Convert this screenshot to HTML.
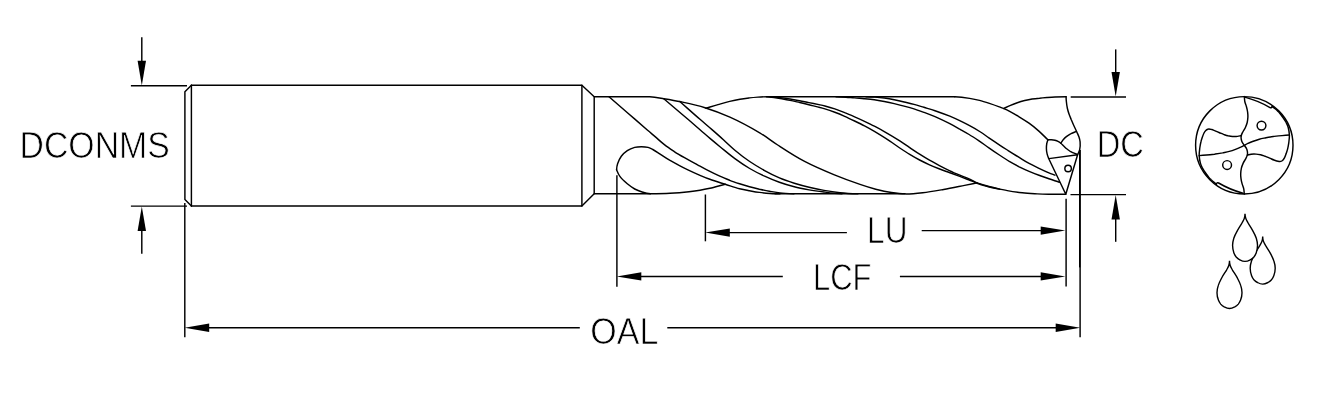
<!DOCTYPE html>
<html lang="en"><head><meta charset="utf-8"><title>Drill dimension drawing</title>
<style>html,body{margin:0;padding:0;background:#fff}svg{display:block;will-change:transform}.o{fill:none;stroke:#000;stroke-width:1.45;stroke-linecap:round;stroke-linejoin:round}.d{fill:none;stroke:#000;stroke-width:1.45}.a{fill:#000;stroke:none}.w{fill:#fff;stroke:#000;stroke-width:1.4;stroke-linejoin:round}.t{font-family:"Liberation Sans",sans-serif;fill:#000;stroke:#fff;stroke-width:0.75}</style></head><body>
<svg width="1339" height="404" viewBox="0 0 1339 404">
<g class="o">
<path d="M191.4,85.3H581.9V205.9H191.4"/>
<path d="M191.4,85.3V205.9"/>
<path d="M191.4,85.3L184.9,91.8V199.4L191.4,205.9"/>
<path d="M581.9,85.3L594.2,96.7 V193.8 L581.9,205.9"/>
<path d="M594.2,96.7H649.7C654.8,97.1 658.9,97.9 663.8,98.7C669.3,99.6 674.8,100.5 681.0,101.8C688.4,103.4 697.0,105.2 705.0,107.7C713.3,110.3 721.4,113.3 729.9,117.1C739.5,121.4 751.1,127.7 759.7,132.8C766.6,136.9 771.0,140.7 777.7,145.0C785.7,150.2 795.2,156.5 804.6,161.4C814.1,166.4 824.8,170.9 834.4,174.9C843.2,178.5 852.5,181.9 860.0,184.4C865.8,186.4 870.4,187.8 875.7,189.2C880.9,190.5 886.3,191.7 891.4,192.5C896.1,193.2 900.2,193.8 905.0,193.9C910.5,194.0 916.6,193.4 922.7,192.7C929.4,192.0 936.6,190.7 943.6,189.5C950.6,188.3 958.5,186.6 964.6,185.4C969.3,184.5 972.9,183.7 977.1,182.9"/>
<path d="M706.0,108.2C710.0,107.0 714.0,105.7 718.0,104.6C721.9,103.5 725.9,102.3 729.7,101.4C733.2,100.6 736.6,99.9 740.0,99.3C743.2,98.7 746.4,98.3 749.5,97.9C752.4,97.5 755.0,97.3 758.0,97.1C761.2,96.9 764.0,96.8 768.0,96.7H954.8"/>
<path d="M954.8,96.7C960.1,97.0 965.2,97.7 969.6,98.4C973.2,99.0 976.2,99.6 979.5,100.4C982.8,101.2 986.1,102.3 989.4,103.4C992.7,104.5 996.6,105.9 999.3,106.9C1001.1,107.6 1002.2,107.9 1003.8,108.6C1005.5,109.3 1007.2,110.0 1009.2,111.1C1012.0,112.6 1015.8,114.8 1019.1,116.8C1022.4,118.8 1025.8,120.9 1029.0,123.2C1032.4,125.6 1035.7,128.3 1038.9,131.1C1042.0,133.9 1044.9,136.9 1047.9,139.8"/>
<path d="M1003.9,108.4C1005.9,107.5 1007.7,106.6 1009.9,105.7C1012.2,104.7 1014.8,103.6 1017.3,102.7C1019.8,101.8 1022.2,101.1 1024.7,100.5C1027.2,99.9 1029.6,99.4 1032.1,99.0C1034.6,98.6 1037.0,98.4 1039.5,98.2C1042.0,97.9 1044.5,97.7 1047.0,97.5C1049.6,97.3 1052.1,97.1 1055.0,97.0C1058.4,96.9 1062.3,96.8 1066.1,96.8"/>
<path d="M1066.1,96.8C1066.1,98.2 1066.1,99.4 1066.3,101.0C1066.5,103.1 1066.9,106.2 1067.4,108.5C1067.9,110.6 1068.5,112.6 1069.2,114.5C1069.8,116.3 1070.6,117.9 1071.3,119.7C1072.1,121.6 1072.9,123.6 1073.8,125.5C1074.7,127.5 1075.7,129.5 1076.6,131.5C1077.4,133.4 1078.4,135.2 1079.0,137.0C1079.5,138.6 1079.9,140.0 1080.1,141.8C1080.3,144.1 1080.2,147.4 1079.7,149.7C1079.3,151.6 1078.3,153.0 1077.6,154.7"/>
<path d="M594.2,193.8H650C656.7,193.7 663.4,193.6 670.0,193.2C676.4,192.9 683.5,192.3 689.0,191.7C693.2,191.3 696.4,190.9 700.0,190.3C703.4,189.7 706.3,189.1 709.9,188.3C714.5,187.2 720.1,185.6 725.2,184.3"/>
<path d="M616.6,169.7C616.7,167.8 616.9,165.8 617.6,163.8C618.4,161.4 619.7,158.5 621.3,156.3C622.9,154.1 625.1,152.2 627.3,150.7C629.5,149.2 632.2,148.1 634.7,147.4C636.9,146.8 639.2,146.7 641.4,146.7C643.6,146.7 646.1,146.9 648.1,147.4C649.8,147.9 651.1,148.6 652.8,149.5C654.9,150.6 657.2,152.2 659.7,153.8C662.7,155.7 666.3,158.2 669.6,160.2C672.9,162.1 676.4,164.0 679.5,165.6C682.3,167.1 684.4,168.2 687.4,169.6C691.1,171.4 696.0,173.6 700.0,175.3C703.5,176.8 706.2,178.0 709.9,179.3C714.4,181.0 720.2,182.7 725.2,184.3C730.1,185.8 735.2,187.6 739.6,188.7C743.2,189.6 746.2,190.1 749.5,190.7C752.8,191.3 756.0,191.9 759.4,192.4C762.9,192.9 766.5,193.3 770.0,193.5C773.4,193.7 776.5,193.7 780.0,193.8"/>
<path d="M616.6,169.7C617.5,171.9 618.3,174.2 619.9,176.4C621.7,179.0 624.7,181.6 627.3,183.8C629.7,185.8 632.2,187.6 634.7,189.0C637.1,190.3 639.5,191.2 642.1,192.0C644.8,192.8 647.5,193.5 650.5,193.8"/>
<path d="M775,193.8H905"/>
<path d="M609.0,96.7C615.3,102.2 621.6,107.7 628.0,113.2C634.4,118.8 642.4,125.7 647.3,130.0C650.4,132.6 652.1,134.1 654.8,136.4C657.9,139.0 661.3,142.3 664.7,144.9C667.9,147.4 671.3,149.6 674.6,151.8C677.9,153.9 681.2,155.8 684.5,157.7C687.8,159.6 691.6,161.7 694.4,163.2C696.5,164.4 697.9,165.1 700.0,166.2C702.8,167.7 706.6,169.7 709.9,171.4C713.2,173.1 716.5,174.7 719.8,176.2C723.1,177.7 726.4,179.0 729.7,180.3C733.0,181.6 736.3,182.7 739.6,183.8C742.9,184.9 746.2,185.8 749.5,186.7C752.8,187.6 756.1,188.4 759.4,189.2C762.7,189.9 765.9,190.6 769.3,191.2C772.8,191.8 776.2,192.5 780.0,192.9C784.3,193.4 789.2,193.6 794.0,193.8"/>
<path d="M663.8,98.7C669.9,103.9 675.9,109.0 682.0,114.2C688.1,119.4 695.2,125.6 700.3,130.0C704.0,133.2 706.7,135.6 710.0,138.4C713.3,141.2 716.3,143.7 720.0,146.7C724.5,150.3 729.9,154.9 734.9,158.6C739.8,162.2 744.7,165.5 749.7,168.5C754.6,171.4 759.6,173.9 764.6,176.2C769.5,178.5 774.4,180.5 779.4,182.3C784.3,184.1 789.3,185.5 794.3,186.8C799.2,188.1 804.1,189.0 809.1,189.9C814.0,190.8 818.8,191.4 824.0,192.0C829.7,192.7 836.0,193.5 842.0,193.8"/>
<path d="M679.8,101.5C686.5,107.4 694.1,114.2 700.0,119.3C704.5,123.2 708.0,126.1 712.0,129.6C715.9,133.0 719.9,136.5 723.7,140.0C727.5,143.4 730.8,146.8 734.9,150.2C739.4,154.0 744.7,158.1 749.7,161.5C754.6,164.8 759.6,167.8 764.6,170.6C769.5,173.3 774.4,175.8 779.4,177.9C784.3,180.0 789.3,181.6 794.3,183.2C799.2,184.7 804.1,186.0 809.1,187.2C814.0,188.4 818.9,189.5 824.0,190.4C829.2,191.3 834.5,192.1 840.0,192.7C845.8,193.3 852.1,193.6 858.0,193.8"/>
<path d="M770.0,96.7C772.7,96.8 775.3,97.1 778.0,97.4C780.8,97.7 783.4,98.0 786.6,98.5C790.5,99.1 795.7,100.1 799.7,100.8C803.0,101.4 805.7,102.0 808.9,102.6C812.4,103.3 817.0,104.3 820.0,104.9C822.0,105.3 823.0,105.5 824.9,106.0C827.6,106.7 831.5,107.8 834.8,108.9C838.1,110.0 841.4,111.3 844.7,112.7C848.0,114.0 851.3,115.4 854.6,116.8C857.9,118.2 861.2,119.7 864.5,121.3C867.8,122.9 871.1,124.5 874.4,126.2C877.7,127.9 880.7,129.5 884.3,131.6C888.9,134.2 895.2,138.0 899.8,140.9C903.5,143.3 906.4,145.4 909.7,147.6C913.0,149.8 916.3,152.1 919.6,154.2C922.9,156.3 926.2,158.3 929.5,160.2C932.8,162.1 936.0,163.8 939.4,165.6C942.8,167.4 946.4,169.2 949.9,170.8C953.2,172.4 956.5,173.8 959.8,175.2C963.1,176.6 966.7,177.8 969.7,179.2C972.4,180.4 974.6,181.8 977.1,182.8C979.7,183.8 982.4,184.5 985.0,185.3C987.5,186.0 989.9,186.7 992.4,187.3C994.9,187.9 997.5,188.5 1000.0,189.1C1002.5,189.6 1004.4,190.1 1007.3,190.6C1011.4,191.3 1017.3,192.2 1022.3,192.8C1027.3,193.3 1032.6,193.6 1037.2,193.9C1041.2,194.1 1044.3,194.2 1048.4,194.3C1053.6,194.4 1060.0,194.3 1065.8,194.3"/>
<path d="M766.5,96.7C769.0,96.9 771.5,97.2 774.0,97.5C776.6,97.9 779.2,98.3 781.8,98.8C784.5,99.3 787.2,99.8 790.0,100.4C793.1,101.0 796.5,101.8 799.7,102.5C802.8,103.2 805.7,103.9 808.9,104.7C812.4,105.6 817.1,106.7 820.0,107.5C822.0,108.0 823.0,108.3 824.9,108.9C827.6,109.7 831.5,111.0 834.8,112.2C838.1,113.4 841.4,114.8 844.7,116.3C848.0,117.8 851.3,119.4 854.6,121.0C857.9,122.6 861.2,124.2 864.5,125.9C867.8,127.6 870.8,129.3 874.4,131.4C879.0,134.1 885.3,138.1 889.9,141.1C893.6,143.5 896.5,145.8 899.8,148.0C903.1,150.2 906.4,152.4 909.7,154.4C913.0,156.4 916.3,158.3 919.6,160.0C922.9,161.7 926.2,163.3 929.5,164.8C932.9,166.3 936.3,167.7 939.7,169.0C943.1,170.3 946.5,171.6 949.9,172.8C953.2,174.0 956.5,175.2 959.8,176.4C963.1,177.6 966.6,179.0 969.7,180.2C972.4,181.2 974.6,182.3 977.1,183.2C979.7,184.1 982.4,185.0 985.0,185.8C987.5,186.5 989.9,187.1 992.4,187.7C994.9,188.3 997.5,188.8 1000.0,189.3"/>
<path d="M866.0,96.7C869.6,96.8 872.0,96.9 875.0,97.1C878.1,97.3 881.2,97.6 884.3,98.0C887.6,98.5 890.9,99.1 894.2,99.8C897.5,100.5 900.8,101.2 904.1,102.0C907.4,102.8 910.7,103.5 914.0,104.4C917.3,105.3 920.5,106.3 923.9,107.3C927.5,108.4 931.1,109.4 935.0,110.7C939.6,112.3 945.4,114.4 949.8,116.2C953.5,117.8 956.4,119.1 959.7,120.7C963.0,122.3 966.2,123.9 969.6,125.7C973.2,127.6 977.1,129.9 980.5,132.0C983.5,133.9 985.9,135.8 988.9,137.9C992.3,140.2 996.7,143.1 1000.0,145.3C1002.7,147.1 1004.6,148.3 1007.3,150.0C1010.8,152.2 1015.4,155.1 1019.2,157.4C1022.6,159.5 1025.8,161.6 1029.1,163.4C1032.4,165.2 1035.7,166.7 1039.0,168.3C1042.3,169.9 1046.0,171.6 1048.9,172.8C1051.1,173.8 1052.9,174.4 1054.9,175.2"/>
<path d="M836.0,96.7C839.6,96.8 842.8,97.0 846.0,97.2C849.0,97.4 851.7,97.7 854.6,97.9C857.7,98.2 860.8,98.4 864.0,98.7C867.4,99.0 871.0,99.3 874.4,99.8C877.7,100.3 881.0,100.9 884.3,101.5C887.6,102.1 890.9,102.8 894.2,103.6C897.5,104.4 900.8,105.2 904.1,106.1C907.4,107.0 910.7,107.9 914.0,108.9C917.3,110.0 920.5,111.2 923.9,112.4C927.5,113.7 931.1,114.9 935.0,116.6C939.6,118.6 945.4,121.4 949.8,123.7C953.5,125.6 956.5,127.3 959.7,129.1C962.9,130.9 966.0,132.6 969.1,134.5C972.4,136.5 975.7,138.7 979.0,140.9C982.3,143.1 985.5,145.5 988.9,147.8C992.3,150.2 995.9,152.7 999.4,155.0C1002.7,157.2 1006.0,159.4 1009.3,161.4C1012.6,163.3 1015.9,165.1 1019.2,166.8C1022.5,168.4 1025.8,169.9 1029.1,171.3C1032.4,172.7 1035.7,174.0 1039.0,175.2C1042.3,176.4 1045.6,177.5 1048.9,178.7C1052.3,179.9 1055.8,181.0 1059.3,182.2"/>
<path d="M1047.9,139.8C1047.5,141.1 1047.0,142.2 1046.8,143.5C1046.5,145.0 1046.4,146.8 1046.4,148.5C1046.4,150.2 1046.7,152.1 1047.1,153.8C1047.5,155.6 1048.3,157.3 1048.9,159.0L1065.8,194.2L1077.6,154.7L1048.9,158.6"/>
<path d="M1047.9,139.8C1049.1,139.7 1050.2,139.6 1051.4,139.7C1052.6,139.8 1053.8,140.0 1054.9,140.3C1056.0,140.6 1057.0,140.9 1058.0,141.4C1059.0,141.9 1059.9,142.5 1060.8,143.2C1061.8,144.0 1062.7,145.1 1063.7,146.0C1064.7,146.9 1065.7,148.0 1066.7,148.8C1067.7,149.6 1068.7,150.3 1069.7,151.0C1070.7,151.6 1071.6,152.2 1072.7,152.7C1074.1,153.3 1075.8,153.9 1077.4,154.5"/>
<path d="M1060.8,143.2C1061.6,142.1 1062.3,140.9 1063.2,139.8C1064.2,138.6 1065.4,137.4 1066.7,136.4C1068.0,135.4 1069.4,134.4 1071.0,133.6C1072.7,132.7 1074.6,132.1 1076.4,131.4"/>
<circle cx="1068.1" cy="168.4" r="3.25"/>
</g>
<g class="o">
<circle cx="1244.3" cy="145.3" r="48.7"/>
<path d="M1244.3,96.6C1244.5,98.2 1244.5,99.9 1244.8,101.5C1245.1,103.2 1245.9,104.8 1246.4,106.5C1246.9,108.3 1247.4,110.2 1247.6,112.0C1247.8,113.7 1248.0,115.3 1247.9,117.0C1247.8,118.8 1247.6,120.7 1247.2,122.5C1246.8,124.2 1246.1,125.9 1245.4,127.5C1244.7,129.1 1243.5,130.6 1242.8,132.0C1242.2,133.2 1241.6,134.3 1241.3,135.5C1241.0,136.6 1241.0,137.9 1241.2,139.0C1241.4,140.1 1241.7,141.2 1242.2,142.2C1242.7,143.3 1243.6,144.3 1244.3,145.3C1245.0,146.3 1245.9,147.3 1246.4,148.4C1246.9,149.4 1247.2,150.5 1247.4,151.6C1247.6,152.7 1247.6,154.0 1247.3,155.1C1247.0,156.3 1246.4,157.4 1245.8,158.6C1245.1,160.0 1243.9,161.5 1243.2,163.1C1242.5,164.7 1241.8,166.4 1241.4,168.1C1241.0,169.9 1240.8,171.8 1240.7,173.6C1240.6,175.3 1240.8,176.9 1241.0,178.6C1241.2,180.4 1241.7,182.3 1242.2,184.1C1242.7,185.8 1243.5,187.4 1243.8,189.1C1244.1,190.7 1244.1,192.4 1244.3,194.0"/>
<path d="M1241.3,135.5C1240.0,135.8 1238.9,136.2 1237.5,136.4C1236.0,136.6 1234.1,136.6 1232.5,136.5C1231.0,136.4 1229.5,136.1 1228.0,135.8C1226.5,135.4 1225.1,134.9 1223.6,134.4C1222.1,133.8 1220.5,133.1 1219.0,132.5C1217.5,131.9 1216.1,131.1 1214.7,130.6C1213.3,130.1 1211.8,129.5 1210.5,129.3C1209.5,129.1 1208.6,129.0 1207.8,129.2C1207.1,129.4 1206.4,129.8 1205.8,130.4C1205.1,131.1 1204.5,132.0 1204.0,133.0C1203.4,134.2 1202.9,135.6 1202.4,137.0C1201.9,138.6 1201.3,140.2 1200.9,142.0C1200.4,143.9 1200.1,145.9 1199.8,148.0C1199.5,150.4 1199.1,153.1 1199.2,155.6C1199.3,158.1 1199.8,160.9 1200.4,163.1C1200.9,164.9 1201.5,166.3 1202.3,167.8C1203.0,169.3 1203.9,170.5 1204.9,172.0C1206.2,173.9 1208.3,176.9 1209.5,178.2C1210.1,178.9 1210.6,179.2 1211.1,179.7C1211.7,180.2 1212.2,180.8 1212.8,181.3C1213.4,181.8 1214.0,182.3 1214.7,182.8C1215.3,183.3 1215.9,183.7 1216.5,184.2"/>
<path d="M1247.3,155.1C1248.6,154.8 1249.7,154.4 1251.1,154.2C1252.6,154.0 1254.5,154.0 1256.1,154.1C1257.6,154.2 1259.1,154.5 1260.6,154.8C1262.1,155.2 1263.5,155.7 1265.0,156.2C1266.5,156.8 1268.1,157.5 1269.6,158.1C1271.1,158.7 1272.5,159.5 1273.9,160.0C1275.3,160.5 1276.8,161.1 1278.1,161.3C1279.1,161.5 1280.0,161.6 1280.8,161.4C1281.5,161.2 1282.2,160.8 1282.8,160.2C1283.5,159.5 1284.1,158.6 1284.6,157.6C1285.2,156.4 1285.7,155.0 1286.2,153.6C1286.7,152.0 1287.3,150.4 1287.7,148.6C1288.2,146.7 1288.5,144.7 1288.8,142.6C1289.1,140.2 1289.5,137.5 1289.4,135.0C1289.3,132.5 1288.8,129.7 1288.2,127.5C1287.7,125.7 1287.1,124.3 1286.3,122.8C1285.6,121.3 1284.7,120.1 1283.7,118.6C1282.4,116.7 1280.3,113.7 1279.1,112.4C1278.5,111.7 1278.0,111.4 1277.5,110.9C1276.9,110.4 1276.4,109.8 1275.8,109.3C1275.2,108.8 1274.6,108.3 1273.9,107.8C1273.3,107.3 1272.7,106.9 1272.1,106.4"/>
<path d="M1289.4,135.0C1286.9,135.2 1284.5,135.4 1282.0,135.6C1279.4,135.8 1276.7,136.1 1274.1,136.4C1271.4,136.8 1268.6,137.2 1266.0,137.7C1263.7,138.2 1261.5,138.6 1259.3,139.2C1257.0,139.8 1254.6,140.7 1252.5,141.5C1250.7,142.2 1248.9,143.0 1247.4,143.7C1246.2,144.3 1245.3,144.8 1244.3,145.3C1243.3,145.8 1242.4,146.3 1241.2,146.9C1239.7,147.6 1237.9,148.4 1236.1,149.1C1234.0,149.9 1231.6,150.8 1229.3,151.4C1227.1,152.0 1224.9,152.4 1222.6,152.9C1220.0,153.4 1217.2,153.8 1214.5,154.2C1211.9,154.5 1209.2,154.8 1206.6,155.0C1204.1,155.2 1201.7,155.4 1199.2,155.6"/>
<path d="M1245.6,97.4Q1258.4,100.8 1270.0,107.6Q1271.8,108.4 1272.3,106.3"/>
<path d="M1243.0,193.2Q1230.2,189.8 1218.6,183.0Q1216.8,182.2 1216.3,184.3"/>
<circle cx="1261.5" cy="125.6" r="4.4"/><circle cx="1227.1" cy="165.0" r="4.4"/>
</g>
<g class="w">
<path d="M1262.7,236.4C1262.7,238.0 1262.9,239.6 1263.4,241.1C1263.9,242.7 1264.8,244.0 1265.7,245.7C1267.0,247.9 1269.0,250.7 1270.4,253.3C1271.7,255.8 1273.1,258.4 1273.9,261.0C1274.7,263.4 1275.2,265.9 1275.2,268.3C1275.2,270.8 1274.6,273.7 1273.8,275.7C1273.2,277.3 1272.5,278.5 1271.5,279.7C1270.5,280.8 1269.3,281.8 1268.0,282.5C1266.4,283.3 1264.5,284.1 1262.7,284.1C1261.0,284.1 1259.0,283.3 1257.5,282.5C1256.1,281.8 1254.9,280.8 1253.9,279.7C1252.9,278.5 1252.2,277.3 1251.6,275.7C1250.8,273.7 1250.2,270.8 1250.2,268.3C1250.2,265.9 1250.7,263.4 1251.5,261.0C1252.3,258.4 1253.7,255.8 1255.0,253.3C1256.4,250.7 1258.4,247.9 1259.7,245.7C1260.6,244.0 1261.5,242.7 1262.0,241.1C1262.5,239.6 1262.7,238.0 1262.7,236.4"/>
<path d="M1245.0,213.7C1245.1,215.3 1245.3,216.9 1245.8,218.4C1246.3,220.0 1247.2,221.3 1248.1,223.0C1249.3,225.2 1251.3,228.0 1252.7,230.6C1254.1,233.1 1255.5,235.7 1256.3,238.3C1257.0,240.7 1257.6,243.2 1257.5,245.6C1257.5,248.1 1256.9,251.0 1256.2,253.0C1255.6,254.6 1254.8,255.8 1253.9,257.0C1252.9,258.1 1251.7,259.1 1250.3,259.8C1248.8,260.6 1246.8,261.4 1245.0,261.4C1243.3,261.4 1241.3,260.6 1239.8,259.8C1238.4,259.1 1237.2,258.1 1236.2,257.0C1235.3,255.8 1234.5,254.6 1233.9,253.0C1233.2,251.0 1232.6,248.1 1232.6,245.6C1232.5,243.2 1233.1,240.7 1233.8,238.3C1234.6,235.7 1236.0,233.1 1237.4,230.6C1238.8,228.0 1240.8,225.2 1242.0,223.0C1242.9,221.3 1243.8,220.0 1244.3,218.4C1244.8,216.9 1245.0,215.3 1245.0,213.7"/>
<path d="M1229.5,260.8C1229.5,262.4 1229.7,264.0 1230.2,265.5C1230.7,267.1 1231.6,268.4 1232.5,270.1C1233.8,272.3 1235.8,275.1 1237.2,277.7C1238.5,280.2 1239.9,282.8 1240.7,285.4C1241.5,287.8 1242.0,290.3 1242.0,292.7C1242.0,295.2 1241.4,298.1 1240.6,300.1C1240.0,301.7 1239.3,302.9 1238.3,304.1C1237.3,305.2 1236.1,306.2 1234.8,306.9C1233.2,307.7 1231.2,308.5 1229.5,308.5C1227.8,308.5 1225.8,307.7 1224.2,306.9C1222.9,306.2 1221.7,305.2 1220.7,304.1C1219.7,302.9 1219.0,301.7 1218.4,300.1C1217.6,298.1 1217.0,295.2 1217.0,292.7C1217.0,290.3 1217.5,287.8 1218.3,285.4C1219.1,282.8 1220.5,280.2 1221.8,277.7C1223.2,275.1 1225.2,272.3 1226.5,270.1C1227.4,268.4 1228.3,267.1 1228.8,265.5C1229.3,264.0 1229.5,262.4 1229.5,260.8"/>
</g>
<g class="d">
<path d="M130.9,85.7H187"/>
<path d="M130.9,206.1H187"/>
<path d="M141.8,37.3V70"/>
<path d="M141.8,220V253.7"/>
<path d="M184.8,203V337.3"/>
<path d="M1080.1,150V337.3"/>
<path d="M1079.7,150V267.4"/>
<path d="M200,327.7H579.8"/>
<path d="M667.3,327.7H1060"/>
<path d="M616.9,175.3V286.8"/>
<path d="M1066.1,198.7V286.5"/>
<path d="M635,276.4H782.8"/>
<path d="M899.9,276.4H1045"/>
<path d="M705.4,194.5V241.3"/>
<path d="M720,232.6H846.9"/>
<path d="M921.7,230.6H1045"/>
<path d="M1070.7,96.9H1126"/>
<path d="M1070.5,194.6H1126"/>
<path d="M1115.7,49.4V80"/>
<path d="M1115.7,210V241.8"/>
</g>
<g class="a">
<path d="M141.8,85.4L137.6,60.8L146.0,60.8Z"/>
<path d="M141.8,206.4L137.6,231.0L146.0,231.0Z"/>
<path d="M184.6,327.7L209.2,323.5L209.2,331.9Z"/>
<path d="M1080.3,327.7L1055.7,323.5L1055.7,331.9Z"/>
<path d="M616.7,276.4L641.3,272.2L641.3,280.6Z"/>
<path d="M1065.3,276.4L1040.7,272.2L1040.7,280.6Z"/>
<path d="M705.2,232.6L729.8,228.4L729.8,236.8Z"/>
<path d="M1065.3,230.6L1040.7,226.4L1040.7,234.8Z"/>
<path d="M1115.7,96.6L1111.5,72.0L1119.9,72.0Z"/>
<path d="M1115.7,194.9L1111.5,219.5L1119.9,219.5Z"/>
</g>
<g class="t">
<text x="19.6" y="157.5" font-size="37.8" textLength="150.1" lengthAdjust="spacingAndGlyphs">DCONMS</text>
<text x="1096.7" y="157.1" font-size="37.3" textLength="47.2" lengthAdjust="spacingAndGlyphs">DC</text>
<text x="867.1" y="243.2" font-size="37.2" textLength="40.4" lengthAdjust="spacingAndGlyphs">LU</text>
<text x="813.0" y="290.4" font-size="37.3" textLength="58.5" lengthAdjust="spacingAndGlyphs">LCF</text>
<text x="590.3" y="344.2" font-size="37.4" textLength="68.0" lengthAdjust="spacingAndGlyphs">OAL</text>
</g>
</svg></body></html>
